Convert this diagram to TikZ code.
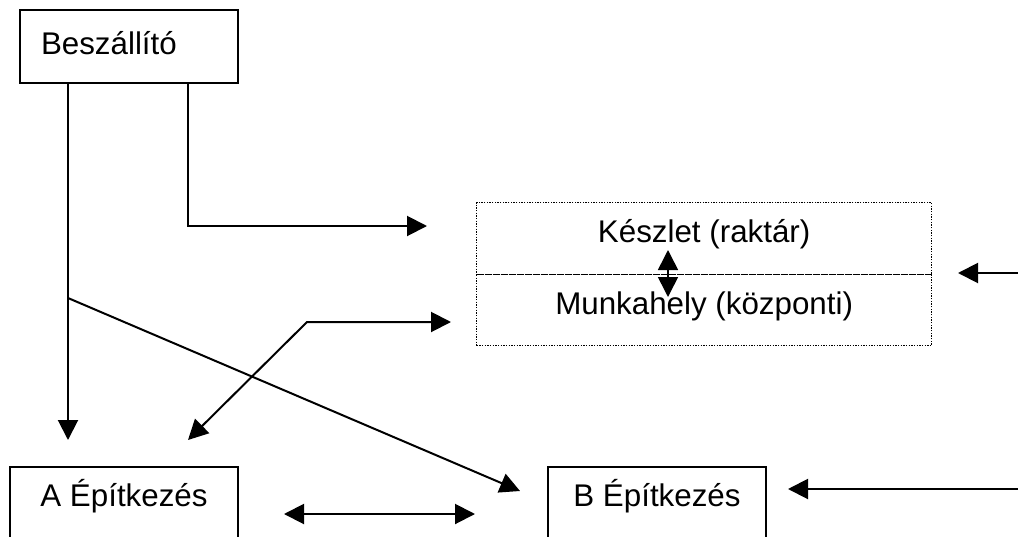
\documentclass[tikz,border=0pt]{standalone}
\usepackage{fontspec}
\setmainfont{Liberation Sans}
\usetikzlibrary{arrows.meta}
\begin{document}
\begin{tikzpicture}[x=0.75pt,y=-0.75pt,
  line width=1.5pt,
  font=\fontsize{23.5}{28}\selectfont,
  tip/.style={-{Triangle[length=15pt,width=15pt]}},
  bothtip/.style={{Triangle[length=15pt,width=15pt]}-{Triangle[length=15pt,width=15pt]}},
  box/.style={draw, rectangle, anchor=north west, inner ysep=0pt, line width=1.5pt},
  dotbox/.style={draw, rectangle, anchor=north west, inner ysep=0pt, inner xsep=0pt,
    line width=1pt, dash pattern=on 1pt off 1pt,
    minimum width=341.25pt, text height=30pt, align=center}
]
\useasboundingbox (0,0) rectangle (1018,536);
\clip (0,0) rectangle (1018,536);
\fill[white] (0,0) rectangle (1018,536);

% nodes
\node[box, inner xsep=15.75pt, text width=132pt, align=left,
      text height=33pt, text depth=21.75pt] (bsz) at (19,9) {Beszállító};
\node[box, inner xsep=0pt, minimum width=171pt, align=center,
      text height=29.25pt, text depth=50pt] (A) at (9,466) {A Építkezés};
\node[box, inner xsep=0pt, minimum width=163.5pt, align=center,
      text height=29.25pt, text depth=50pt] (B) at (547,466) {B Építkezés};
\node[dotbox, text depth=24pt] (K) at (476,202) {Készlet (raktár)};
\node[dotbox, text depth=23.25pt] (M) at (476,274) {Munkahely (központi)};

% coordinates (free ends)
\coordinate (a1) at (68,440);
\coordinate (c2) at (188,226);
\coordinate (k1) at (427,226);
\coordinate (d0) at (68,298);
\coordinate (b1) at (520,491);
\coordinate (m1) at (451,322);
\coordinate (m2) at (307,322);
\coordinate (a2) at (188,440);
\coordinate (v1) at (668,250);
\coordinate (v2) at (668,297);
\coordinate (r1) at (1018,273);
\coordinate (r2) at (958,273);
\coordinate (h1) at (284,514);
\coordinate (h2) at (475,514);
\coordinate (r3) at (1018,489);
\coordinate (r4) at (788,489);

% connectors
\draw[tip] (bsz.south -| a1) -- (a1);
\draw[tip] (bsz.south -| c2) -- (c2) -- (k1);
\draw[tip] (d0) -- (b1);
\draw[bothtip] (m1) -- (m2) -- (a2);
\draw[bothtip, line width=1.2pt] (v1) -- (v2);
\draw[tip] (r1) -- (r2);
\draw[bothtip] (h1) -- (h2);
\draw[tip] (r3) -- (r4);
\end{tikzpicture}
\end{document}
